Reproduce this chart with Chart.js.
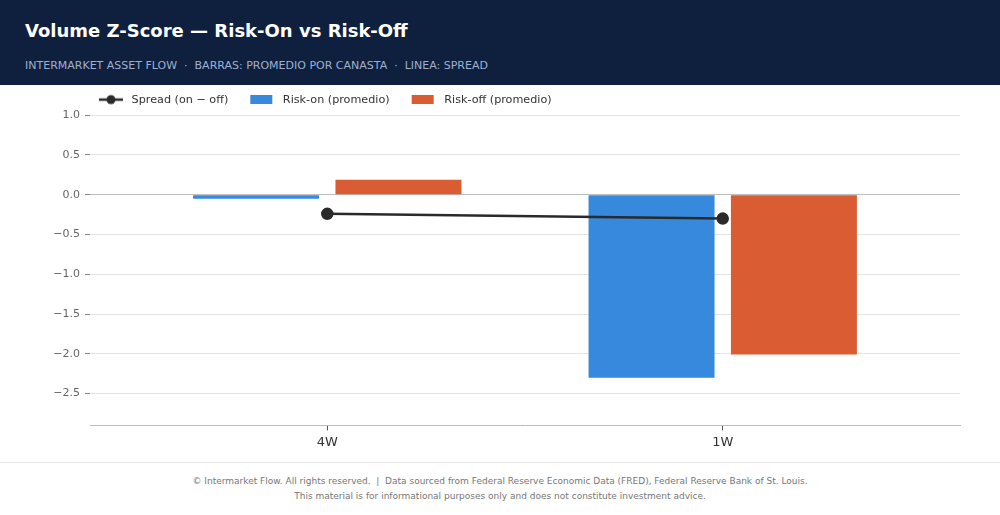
<!DOCTYPE html>
<html>
<head>
<meta charset="utf-8">
<script src="https://cdn.jsdelivr.net/npm/chart.js@4.4.1/dist/chart.umd.min.js"></script>
<style>
  html, body { margin: 0; padding: 0; background: #fff; font-family: "DejaVu Sans", sans-serif; }
  .page { width: 1000px; height: 515px; position: relative; overflow: hidden; }
  .header { height: 85px; background: #0f1f3e; box-sizing: border-box; padding: 21px 25px 0 25px; }
  .header h1 { margin: 0; color: #fff; font-size: 18px; font-weight: bold; line-height: 20px; }
  .header .sub { margin-top: 18px; color: #9fb0cf; font-size: 11px; line-height: 14px; }
  .chart-wrap { position: relative; width: 1000px; height: 377px; }
  .footer { border-top: 1px solid #e6e6e6; text-align: center; color: #777; font-size: 9px; line-height: 15px; padding-top: 11px; }
</style>
</head>
<body>
<div class="page">
  <div class="header">
    <h1>Volume Z-Score — Risk-On vs Risk-Off</h1>
    <div class="sub">INTERMARKET ASSET FLOW &nbsp;·&nbsp; BARRAS: PROMEDIO POR CANASTA &nbsp;·&nbsp; LINEA: SPREAD</div>
  </div>
  <div class="chart-wrap"><canvas id="zscore-chart"></canvas></div>
  <div class="footer">
    © Intermarket Flow. All rights reserved. &nbsp;|&nbsp; Data sourced from Federal Reserve Economic Data (FRED), Federal Reserve Bank of St. Louis.<br>
    This material is for informational purposes only and does not constitute investment advice.
  </div>
</div>
<script>
const categories = ["4W", "1W"];
const riskOn = [-0.05, -2.30];
const riskOff = [0.19, -2.01];
const spread = [-0.24, -0.30];

const blue = "#3689dc";
const orange = "#d95c32";
const dark = "#2a2a2a";

function toPoints(arr) {
  return arr.map((v, i) => ({ x: i, y: v }));
}

// legend symbols, with empty room on the left as item spacing
const ICON_W = 39;
function boxIcon(color) {
  const c = document.createElement("canvas");
  c.width = ICON_W; c.height = 9;
  const g = c.getContext("2d");
  g.fillStyle = color;
  g.fillRect(12, 0, 22, 9);
  return c;
}
function lineIcon() {
  const c = document.createElement("canvas");
  c.width = ICON_W; c.height = 12;
  const g = c.getContext("2d");
  g.strokeStyle = dark; g.lineWidth = 2.5;
  g.beginPath(); g.moveTo(12, 6); g.lineTo(36, 6); g.stroke();
  g.fillStyle = dark;
  g.beginPath(); g.arc(24, 6, 4.5, 0, Math.PI * 2); g.fill();
  return c;
}
const icons = [lineIcon(), boxIcon(blue), boxIcon(orange)];

// slide the legend right so it starts over the plot
const legendShift = {
  id: 'legendShift',
  afterLayout(chart) {
    const l = chart.legend;
    l.left += 77; l.right += 77;
  }
};

new Chart(document.getElementById("zscore-chart"), {
    type: 'bar',
    data: {
      datasets: [
        {
          type: 'line',
          label: "Spread (on − off)",
          data: toPoints(spread),
          borderColor: dark,
          backgroundColor: dark,
          borderWidth: 2.5,
          pointRadius: 5,
          pointHoverRadius: 5,
          pointBackgroundColor: dark,
          pointBorderColor: dark,
          order: 0
        },
        {
          label: "Risk-on (promedio)",
          data: toPoints(riskOn),
          backgroundColor: blue,
          order: 1
        },
        {
          label: "Risk-off (promedio)",
          data: toPoints(riskOff),
          backgroundColor: orange,
          order: 1
        }
      ]
    },
    plugins: [legendShift],
    options: {
      responsive: true,
      maintainAspectRatio: false,
      animation: false,
      layout: { padding: { left: 0, right: 40, top: -1, bottom: 8 } },
      datasets: {
        bar: { categoryPercentage: 0.72, barPercentage: 0.885 }
      },
      plugins: {
        legend: {
          position: 'top',
          align: 'start',
          labels: {
            usePointStyle: true,
            pointStyleWidth: ICON_W,
            padding: 10,
            color: "#333",
            font: { family: "DejaVu Sans", size: 11.2 },
            generateLabels(chart) {
              return chart.data.datasets.map((ds, i) => ({
                text: ds.label,
                pointStyle: icons[i],
                fontColor: "#333",
                lineWidth: 0,
                strokeStyle: 'transparent',
                fillStyle: 'transparent',
                datasetIndex: i
              }));
            }
          }
        },
        tooltip: { enabled: false },
        title: { display: false }
      },
      scales: {
        x: {
          type: 'linear',
          min: -0.6,
          max: 1.6,
          offset: false,
          afterBuildTicks(scale) {
            scale.ticks = categories.map((c, i) => ({ value: i }));
          },
          ticks: {
            callback: (v) => categories[v],
            color: "#333",
            font: { family: "DejaVu Sans", size: 13 },
            padding: 4
          },
          grid: { offset: false, drawOnChartArea: false, drawTicks: true, tickLength: 5, tickColor: "#555" },
          border: { display: true, color: "#bdbdbd", width: 1 }
        },
        y: {
          min: -2.9,
          max: 1.0,
          afterFit(scale) { scale.width = 90; },
          ticks: {
            stepSize: 0.5,
            includeBounds: false,
            color: "#666",
            padding: 5,
            font: { family: "DejaVu Sans", size: 11 },
            callback: (v) => v.toFixed(1).replace('-', '−')
          },
          grid: {
            color: (ctx) => (ctx.tick && ctx.tick.value === 0 ? "#bdbdbd" : "#e3e3e3"),
            tickColor: "#888",
            tickLength: 5,
            lineWidth: 1
          },
          border: { display: false }
        }
      }
    }
});
</script>
</body>
</html>
